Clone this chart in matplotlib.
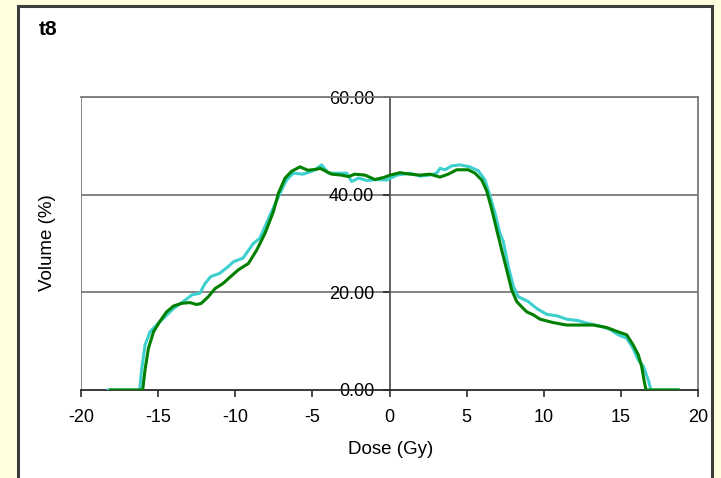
import matplotlib
matplotlib.use("Agg")
import matplotlib.pyplot as plt
from matplotlib.patches import Rectangle

plt.rcParams["font.family"] = ["Liberation Sans", "DejaVu Sans"]

# Dose-volume profile, two measurements
dose_cyan = [-18.25, -16.2, -16.07, -15.85, -15.53, -15.1, -14.55, -14.0, -13.37, -12.8,
             -12.3, -11.96, -11.6, -11.0, -10.45, -10.1, -9.5, -8.83, -8.4, -7.75,
             -7.3, -6.99, -6.67, -6.24, -5.6, -4.94, -4.4, -3.97, -2.77, -2.45,
             -2.0, -1.48, -0.83, -0.18, 0.47, 1.33, 1.98, 2.6, 3.06, 3.27,
             3.6, 4.03, 4.57, 5.2, 5.76, 6.19, 6.5, 6.84, 7.16, 7.38,
             7.7, 8.03, 8.35, 9.0, 9.54, 10.19, 10.84, 11.49, 12.24, 12.78,
             13.65, 14.3, 14.83, 15.38, 15.8, 16.13, 16.45, 16.78, 16.95, 18.72]
vol_cyan = [0, 0, 4.1, 9.2, 11.9, 13.3, 15.0, 16.7, 18.1, 19.5,
            19.8, 21.8, 23.2, 23.9, 25.3, 26.3, 27.0, 30.0, 31.1, 35.8,
            38.9, 41.0, 43.0, 44.4, 44.2, 44.9, 46.1, 44.4, 44.4, 42.7,
            43.4, 42.9, 43.1, 43.0, 44.0, 44.4, 43.8, 44.0, 44.4, 45.4,
            45.1, 45.9, 46.1, 45.7, 44.9, 43.0, 39.9, 36.2, 32.1, 30.4,
            25.3, 21.2, 19.1, 18.1, 16.7, 15.5, 15.2, 14.5, 14.2, 13.7,
            13.1, 12.4, 11.3, 10.6, 8.5, 6.1, 4.9, 2.0, 0, 0]

dose_green = [-18.1, -16.0, -15.85, -15.63, -15.3, -14.9, -14.45, -14.0, -13.47, -12.93,
              -12.5, -12.2, -11.75, -11.3, -10.8, -10.2, -9.8, -9.15, -8.6, -8.07,
              -7.53, -7.2, -6.77, -6.34, -5.8, -5.3, -4.72, -4.5, -3.75, -3.1,
              -2.67, -2.24, -1.59, -0.94, -0.29, 0.03, 0.68, 1.33, 1.98, 2.63,
              3.27, 3.81, 4.36, 5.1, 5.54, 5.98, 6.3, 6.63, 6.95, 7.27,
              7.6, 7.92, 8.25, 8.67, 8.9, 9.32, 9.76, 10.62, 11.49, 12.35,
              13.21, 14.08, 14.83, 15.38, 15.8, 16.13, 16.35, 16.5, 16.63, 18.72]
vol_green = [0, 0, 4.1, 8.5, 11.9, 14.0, 16.0, 17.2, 17.75, 17.9,
             17.5, 17.75, 19.1, 20.8, 21.8, 23.5, 24.6, 25.9, 28.7, 32.1,
             36.5, 40.3, 43.4, 44.8, 45.7, 45.0, 45.2, 45.4, 44.2, 44.0,
             43.7, 44.2, 44.0, 43.1, 43.6, 44.0, 44.5, 44.2, 44.0, 44.2,
             43.6, 44.2, 45.1, 45.1, 44.4, 43.0, 40.8, 37.0, 32.8, 28.7,
             24.6, 20.5, 18.1, 16.7, 16.0, 15.4, 14.5, 13.8, 13.3, 13.3,
             13.3, 12.8, 11.9, 11.3, 9.2, 7.2, 4.8, 2.0, 0, 0]

x_ticks = [-20, -15, -10, -5, 0, 5, 10, 15, 20]
y_ticks = [0, 20, 40, 60]
y_tick_labels = ["0.00", "20.00", "40.00", "60.00"]

W, H = 721, 478
fig = plt.figure(figsize=(W / 100, H / 100), dpi=100)
fig.patch.set_facecolor("#FFFFE0")

# white chart panel with dark frame
panel = Rectangle((18 / W, -0.02), (712 - 18) / W, 1.02 - 6 / H,
                  transform=fig.transFigure, facecolor="white",
                  edgecolor="#3c3c3c", linewidth=2.2, zorder=-5)
fig.patches.append(panel)

ax = fig.add_axes([81 / W, 1 - 390 / H, 617 / W, 293 / H])
ax.set_zorder(2)
ax.set_facecolor("white")
ax.set_xlim(-20, 20)
ax.set_ylim(0, 60)

grid_col = "#7a7a7a"
for gy in y_ticks[1:]:
    ax.axhline(gy, color=grid_col, linewidth=1.3, zorder=1)

# outer plot frame
for s in ["top", "right"]:
    ax.spines[s].set_color(grid_col)
    ax.spines[s].set_linewidth(1.3)
ax.axvline(-20, color=grid_col, linewidth=1.3, zorder=1)

# y axis crosses at zero dose
ax.spines["left"].set_position(("data", 0))
ax.spines["left"].set_color("#555555")
ax.spines["left"].set_linewidth(1.3)
ax.spines["bottom"].set_color("#2a2a2a")
ax.spines["bottom"].set_linewidth(1.3)

ax.plot(dose_cyan, vol_cyan, color="#3ECFCF", linewidth=2.2, zorder=3,
        solid_joinstyle="round")
ax.plot(dose_green, vol_green, color="#008000", linewidth=2.2, zorder=4,
        solid_joinstyle="round")

ax.set_xticks(x_ticks)
ax.set_xticklabels([str(v) for v in x_ticks])
ax.set_yticks(y_ticks)
ax.set_yticklabels(y_tick_labels)
ax.tick_params(axis="x", direction="out", length=5, width=1.2, color="#2a2a2a",
               labelsize=13, pad=9)
ax.tick_params(axis="y", direction="out", length=5, width=1.2, color="#2a2a2a",
               labelsize=13, pad=6)
for lbl in ax.get_yticklabels():
    lbl.set_zorder(5)

fig.text(390.5 / W, 1 - 450 / H, "Dose (Gy)", ha="center", va="center", fontsize=13.5)
fig.text(48 / W, 1 - 242.5 / H, "Volume (%)", ha="center", va="center",
         rotation=90, fontsize=13.5)
fig.text(39 / W, 1 - 29.5 / H, "t8", ha="left", va="center", fontsize=15,
         fontweight="bold")

fig.savefig("out.png", dpi=100, facecolor=fig.get_facecolor())
